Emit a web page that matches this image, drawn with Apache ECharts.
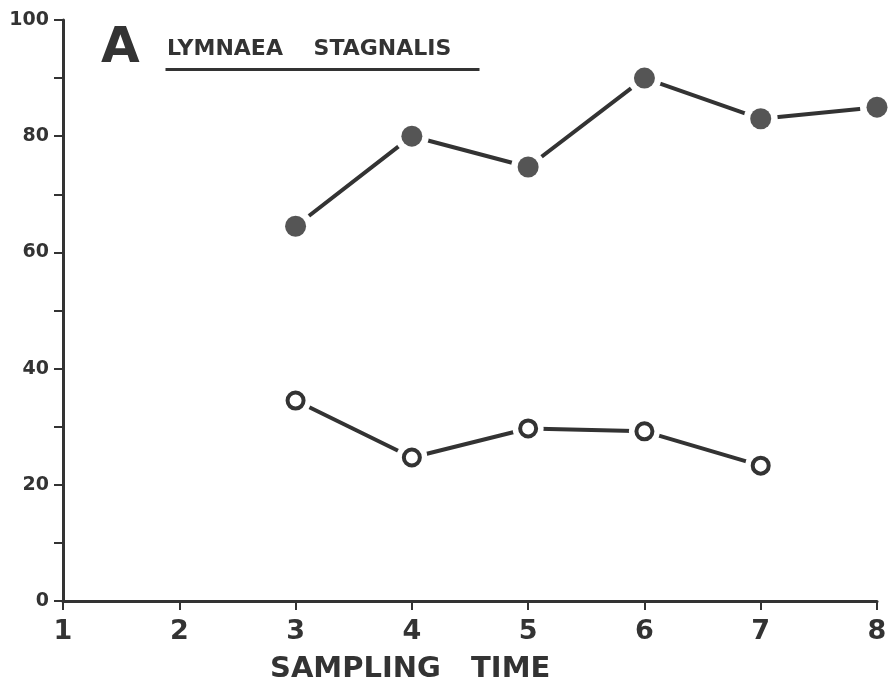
<!DOCTYPE html>
<html>
<head>
	<meta charset="UTF-8">
	<title>Lymnaea stagnalis</title>
	<script src="https://cdn.jsdelivr.net/npm/echarts@6/dist/echarts.min.js"></script>
	<style>
		html, body { margin: 0; padding: 0; background: #fff; }
	</style>
</head>
<body>
	<div id="main" style="width: 891px; height: 690px;"></div>
	<script>
		// values
		var samplingTimes = [3, 4, 5, 6, 7, 8];
		var filledValues = [64.5, 80, 74.7, 90, 83, 85];
		var openTimes = [3, 4, 5, 6, 7];
		var openValues = [34.5, 24.7, 29.7, 29.2, 23.3];

		var ink = '#333';
		var font = '"DejaVu Sans", sans-serif';

		function pairs(xs, ys) {
			var res = [];
			for (var i = 0; i < xs.length; i++) {
				res.push([xs[i], ys[i]]);
			}
			return res;
		}
		var filledData = pairs(samplingTimes, filledValues);
		var openData = pairs(openTimes, openValues);

		var myChart = echarts.init(document.getElementById('main'));

		var option = {
			backgroundColor: '#fff',
			animation: false,
			grid: { left: 63, right: 14, top: 20, bottom: 89 },
			xAxis: {
				type: 'value',
				min: 1,
				max: 8,
				interval: 1,
				axisLine: { lineStyle: { color: ink, width: 3 } },
				axisTick: { length: 9, lineStyle: { color: ink, width: 2 } },
				axisLabel: { color: ink, fontSize: 27, fontWeight: 'bold', fontFamily: font, margin: 17 },
				splitLine: { show: false }
			},
			yAxis: {
				type: 'value',
				min: 0,
				max: 100,
				interval: 20,
				axisLine: { show: true, lineStyle: { color: ink, width: 3 } },
				axisTick: { length: 9, lineStyle: { color: ink, width: 2 } },
				minorTick: { show: true, splitNumber: 2, length: 9, lineStyle: { color: ink, width: 2 } },
				axisLabel: { color: ink, fontSize: 19, fontWeight: 'bold', fontFamily: font, margin: 14 },
				splitLine: { show: false }
			},
			graphic: [
				{
					type: 'text', left: 101, top: 24,
					style: { text: 'A', fontSize: 50, fontWeight: 'bold', fontFamily: font, fill: ink }
				},
				{
					type: 'text', left: 167, top: 38,
					style: { text: 'LYMNAEA    STAGNALIS', fontSize: 22, fontWeight: 'bold', fontFamily: font, fill: ink }
				},
				{
					type: 'line', left: 163, top: 67,
					shape: { x1: 0, y1: 0, x2: 314, y2: 0 },
					style: { stroke: ink, lineWidth: 3 }
				},
				{
					type: 'text', left: 270, top: 655,
					style: { text: 'SAMPLING   TIME', fontSize: 29, fontWeight: 'bold', fontFamily: font, fill: ink }
				}
			],
			series: [
				{
					type: 'line', data: filledData, showSymbol: false,
					lineStyle: { color: ink, width: 4 }, z: 1
				},
				{
					type: 'line', data: openData, showSymbol: false,
					lineStyle: { color: ink, width: 4 }, z: 1
				},
				{
					// white halo that opens the gap between line and marker
					type: 'scatter', data: filledData, symbolSize: 34,
					itemStyle: { color: '#fff', opacity: 1 }, z: 2, silent: true
				},
				{
					type: 'scatter', data: openData, symbolSize: 31,
					itemStyle: { color: '#fff', opacity: 1 }, z: 2, silent: true
				},
				{
					type: 'scatter', data: filledData, symbolSize: 21,
					itemStyle: { color: '#555', opacity: 1 }, z: 3
				},
				{
					type: 'scatter', data: openData, symbolSize: 16,
					itemStyle: { color: '#fff', borderColor: ink, borderWidth: 4, opacity: 1 }, z: 3
				}
			]
		};
		myChart.setOption(option);
	</script>
</body>
</html>
